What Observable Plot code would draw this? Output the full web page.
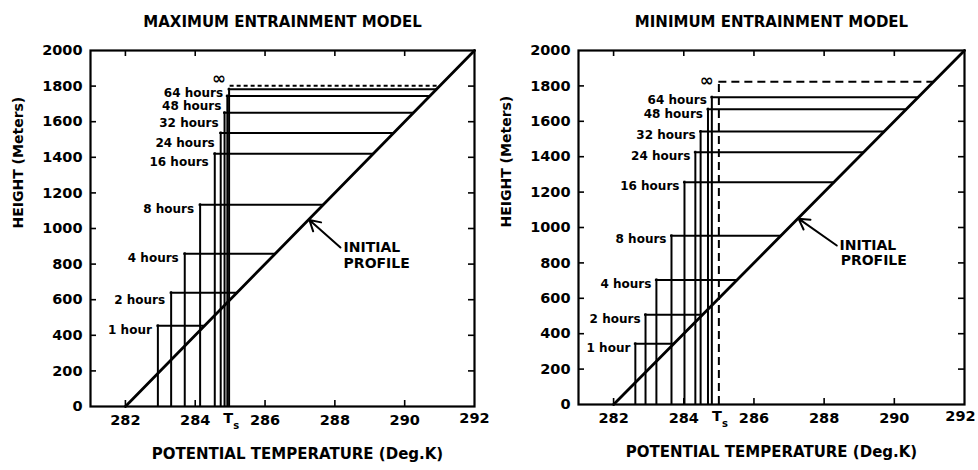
<!DOCTYPE html>
<html><head><meta charset="utf-8">
<script src="https://cdn.jsdelivr.net/npm/d3@7"></script>
<script src="https://cdn.jsdelivr.net/npm/@observablehq/plot@0.6"></script>
<style>
body{margin:0;background:#fff;}
#wrap{display:flex;width:978px;height:470px;background:#fff;}
</style></head><body><div id="wrap"></div>
<script>
// ---- data ----
const titles = ["MAXIMUM ENTRAINMENT MODEL", "MINIMUM ENTRAINMENT MODEL"];
const xAxisLabel = "POTENTIAL TEMPERATURE (Deg.K)";
const yAxisLabel = "HEIGHT (Meters)";
const hourLabels = ["1 hour","2 hours","4 hours","8 hours","16 hours","24 hours","32 hours","48 hours","64 hours"];
const infinityLabel = "\u221E";
const Ts = 285;
const tsLabel = ["T", "s"];
const initialTheta = [282, 292];
const initialHeight = [0, 2000];
// maximum entrainment model
const maxTheta  = [282.93, 283.31, 283.70, 284.14, 284.56, 284.73, 284.84, 284.92, 284.97];
const maxHeight = [453, 639, 858, 1133, 1420, 1536, 1650, 1744, 1783];
const maxLabelHeight = [427, 596, 831, 1107, 1371, 1478, 1590, 1685, 1758];
const maxInfHeight = 1802;
// minimum entrainment model
const minTheta  = [282.62, 282.91, 283.22, 283.65, 284.02, 284.33, 284.48, 284.69, 284.80];
const minHeight = [343, 507, 704, 953, 1256, 1425, 1542, 1668, 1736];
const minLabelHeight = [316, 480, 678, 932, 1232, 1401, 1520, 1638, 1718];
const minInfHeight = 1823;
// annotation "INITIAL PROFILE"
const profileLabel = ["INITIAL", "PROFILE"];
const maxProfileText = {theta: [288.25, 288.25], z: [893, 803]};
const maxProfileArrow = {theta: [288.16, 287.27], z: [893, 1048]};
const minProfileText = {theta: [288.44, 288.47], z: [898, 814]};
const minProfileArrow = {theta: [288.36, 287.27], z: [898, 1050]};
// axes
const xTickLabels = [282, 284, 286, 288, 290];
const xLastTickLabel = [292];
const xTickMarks = [282, 284, 286, 288, 290];
const yTickLabels = [0, 200, 400, 600, 800, 1000, 1200, 1400, 1600, 1800, 2000];
const yTickMarks = [200, 400, 600, 800, 1000, 1200, 1400, 1600, 1800];

// initial profile: theta as a function of height
const profileAt = d3.scaleLinear(initialHeight, initialTheta);
const plain = d => String(d);

function panel(cfg) {
  const idx = d3.range(hourLabels.length);
  const initial = initialTheta.map((t, i) => ({t, z: initialHeight[i]}));
  const W = 489, H = 470, mt = 50;
  const fh = H - mt - cfg.mb;             // frame height in px
  const fw = W - cfg.ml - cfg.mr;         // frame width in px
  const tick = 6;
  const marks = [
    Plot.frame({strokeWidth: 2.2}),
    Plot.axisX(xTickLabels, {anchor: "bottom", tickSize: 0, tickPadding: 8, label: null, fontSize: 14.5, tickFormat: plain}),
    Plot.text(xLastTickLabel, {x: d => d, frameAnchor: "bottom", text: plain, dy: 16, dx: cfg.lastDx, fontSize: 14.5}),
    // inward tick marks on all four sides
    Plot.tickX(xTickMarks, {x: d => d, insetTop: fh - tick, strokeWidth: 1.6}),
    Plot.tickX(xTickMarks, {x: d => d, insetBottom: fh - tick, strokeWidth: 1.6}),
    Plot.axisY(yTickLabels, {anchor: "left", tickSize: 0, tickPadding: 8, label: null, fontSize: 14.5, tickFormat: plain}),
    Plot.tickY(yTickMarks, {y: d => d, insetRight: fw - tick, strokeWidth: 1.6}),
    Plot.tickY(yTickMarks, {y: d => d, insetLeft: fw - tick, strokeWidth: 1.6}),
    // Ts label
    Plot.text([tsLabel[0]], {x: () => Ts, frameAnchor: "bottom", text: d => d, dx: -2, dy: 16, fontSize: 14.5}),
    Plot.text([tsLabel[1]], {x: () => Ts, frameAnchor: "bottom", text: d => d, dx: 6, dy: 22, fontSize: 10}),
    // initial profile
    Plot.line(initial, {x: "t", y: "z", strokeWidth: 2.8}),
    // growing mixed layers
    Plot.ruleX(idx, {x: i => cfg.theta[i], y1: 0, y2: i => cfg.height[i], strokeWidth: 2, strokeLinecap: "square"}),
    Plot.ruleY(idx, {y: i => cfg.height[i], x1: i => cfg.theta[i], x2: i => profileAt(cfg.height[i]), strokeWidth: 2, strokeLinecap: "square"}),
    Plot.text(idx, {x: i => cfg.theta[i], y: i => cfg.labelHeight[i], text: i => hourLabels[i], textAnchor: "end", dx: cfg.labelDx, fontSize: 12}),
    // infinity
    Plot.ruleY([cfg.infHeight], {y: d => d, x1: () => Ts, x2: d => profileAt(d), strokeWidth: 2, strokeDasharray: cfg.dash}),
    Plot.text([infinityLabel], {x: () => Ts, y: () => cfg.infHeight, text: d => d, dx: cfg.infDx, dy: cfg.infDy, fontSize: 17}),
    // annotation
    Plot.text(profileLabel, {x: (d, i) => cfg.profText.theta[i], y: (d, i) => cfg.profText.z[i], text: d => d, textAnchor: "start", fontSize: 14}),
    Plot.arrow([0], {x1: () => cfg.profArrow.theta[0], y1: () => cfg.profArrow.z[0], x2: () => cfg.profArrow.theta[1], y2: () => cfg.profArrow.z[1], strokeWidth: 2, headLength: 9}),
    // titles
    Plot.text([cfg.title], {frameAnchor: "top", dy: -34, text: d => d, fontSize: 15}),
    Plot.text([xAxisLabel], {frameAnchor: "bottom", dy: 52, dx: cfg.xLabelDx, text: d => d, fontSize: 15}),
    Plot.text([yAxisLabel], {frameAnchor: "left", rotate: -90, dx: -72, text: d => d, fontSize: 14})
  ];
  if (cfg.tsVertical) {
    marks.push(Plot.ruleX([Ts], {x: d => d, y1: 0, y2: () => cfg.infHeight, strokeWidth: 2, strokeDasharray: cfg.dash}));
  }
  return Plot.plot({
    width: W, height: H,
    marginLeft: cfg.ml, marginRight: cfg.mr, marginTop: mt, marginBottom: cfg.mb,
    x: {domain: [281, 292]},
    y: {domain: [0, 2000]},
    style: {fontFamily: "DejaVu Sans", fontWeight: "bold", color: "black", background: "white", fontSize: "14px"},
    marks
  });
}

const wrap = document.getElementById("wrap");
wrap.append(panel({
  title: titles[0], theta: maxTheta, height: maxHeight, labelHeight: maxLabelHeight,
  infHeight: maxInfHeight, dash: "4,3", tsVertical: false, labelDx: -6,
  infDx: -11, infDy: -7, profText: maxProfileText, profArrow: maxProfileArrow,
  ml: 90, mr: 15, mb: 64, xLabelDx: 15, lastDx: 0
}));
wrap.append(panel({
  title: titles[1], theta: minTheta, height: minHeight, labelHeight: minLabelHeight,
  infHeight: minInfHeight, dash: "8,5", tsVertical: true, labelDx: -5,
  infDx: -12, infDy: -1, profText: minProfileText, profArrow: minProfileArrow,
  ml: 89, mr: 14, mb: 66, xLabelDx: 0, lastDx: -4
}));
</script></body></html>
